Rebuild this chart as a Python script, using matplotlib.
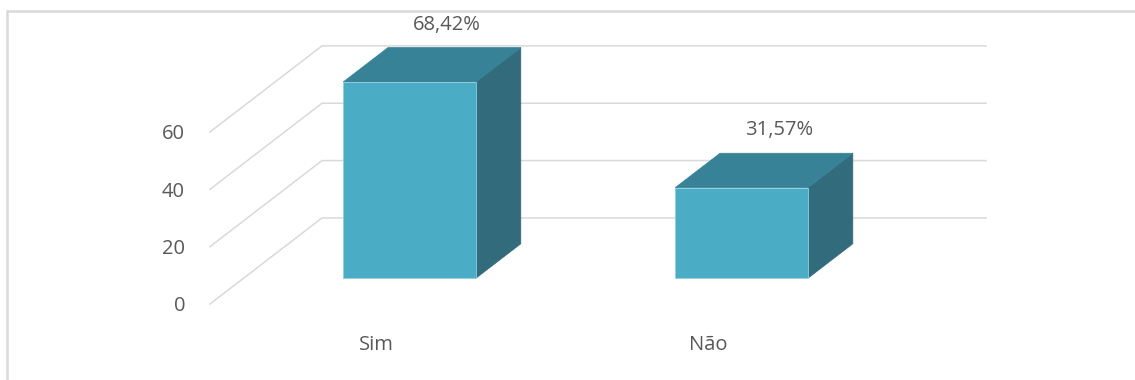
import matplotlib
matplotlib.use("Agg")
import matplotlib.pyplot as plt
from matplotlib.patches import Polygon, Rectangle

# Data
categories = ["Sim", "Não"]
values = [68.42, 31.57]
value_labels = ["68,42%", "31,57%"]
y_ticks = [0, 20, 40, 60]

# Oblique 3-D layout (category units on x, value units on y)
DEPTH_DX = 0.3373      # horizontal shift of the full floor depth
DEPTH_DY = 30.0        # vertical shift of the full floor depth
BAR_W = 0.40
BAR_D0, BAR_D1 = 0.30, 0.70
X_MIN, X_MAX = -0.5, 1.5

FRONT = "#4BACC6"
TOP = "#378296"
SIDE = "#316B7C"
GRID = "#D9D9D9"
TEXT = "#595959"
FS = 14.5

plt.rcParams["font.family"] = ["Open Sans", "DejaVu Sans"]


def proj(c, d, v):
    """Project (category position, depth fraction, value) onto the axes."""
    return (c + d * DEPTH_DX, v + d * DEPTH_DY)


fig = plt.figure(figsize=(11.35, 3.80), dpi=100)
ax = fig.add_axes([0, 0, 1, 1])
ax.set_xlim(-1.1325, 2.286)
ax.set_ylim(-26.5, 106.0)
ax.axis("off")

# chart frame
fig.patches.append(Rectangle((7 / 1135, -0.05), 1.2, 1 - 11 / 380 + 0.05,
                             transform=fig.transFigure, fill=False,
                             edgecolor=GRID, linewidth=1.8, zorder=0))

# walls: diagonal side-wall lines and horizontal back-wall lines
for t in y_ticks:
    x0, y0 = proj(X_MIN, 0, t)
    x1, y1 = proj(X_MIN, 1, t)
    x2, y2 = proj(X_MAX, 1, t)
    ax.plot([x0, x1, x2], [y0, y1, y2], color=GRID, lw=1.1, zorder=1,
            solid_joinstyle="miter")
    ax.text(x0 - 0.075, t - 0.8, f"{t}", ha="right", va="center",
            fontsize=FS, color=TEXT)

# bars
for i, (cat, v, lab) in enumerate(zip(categories, values, value_labels)):
    cl, cr = i - BAR_W / 2, i + BAR_W / 2
    front = [proj(cl, BAR_D0, 0), proj(cr, BAR_D0, 0),
             proj(cr, BAR_D0, v), proj(cl, BAR_D0, v)]
    side = [proj(cr, BAR_D0, 0), proj(cr, BAR_D1, 0),
            proj(cr, BAR_D1, v), proj(cr, BAR_D0, v)]
    top = [proj(cl, BAR_D0, v), proj(cr, BAR_D0, v),
           proj(cr, BAR_D1, v), proj(cl, BAR_D1, v)]
    ax.add_patch(Polygon(side, closed=True, facecolor=SIDE,
                         edgecolor=SIDE, lw=0.5, zorder=3))
    ax.add_patch(Polygon(top, closed=True, facecolor=TOP,
                         edgecolor=TOP, lw=0.5, zorder=3))
    ax.add_patch(Polygon(front, closed=True, facecolor=FRONT,
                         edgecolor="#8FCFE0", lw=0.6, zorder=4))

    # value label above the back edge of the top face
    lx, ly = proj(i - 0.023, BAR_D1, v)
    ax.text(lx, ly + 8.0, lab, ha="center", va="center",
            fontsize=FS, color=TEXT, zorder=5)

    # category label on the floor's front edge
    cx, _ = proj(i, 0, 0)
    ax.text(cx, -14.3, cat, ha="center", va="center",
            fontsize=FS, color=TEXT)

fig.savefig("out.png", dpi=100, facecolor="white")
